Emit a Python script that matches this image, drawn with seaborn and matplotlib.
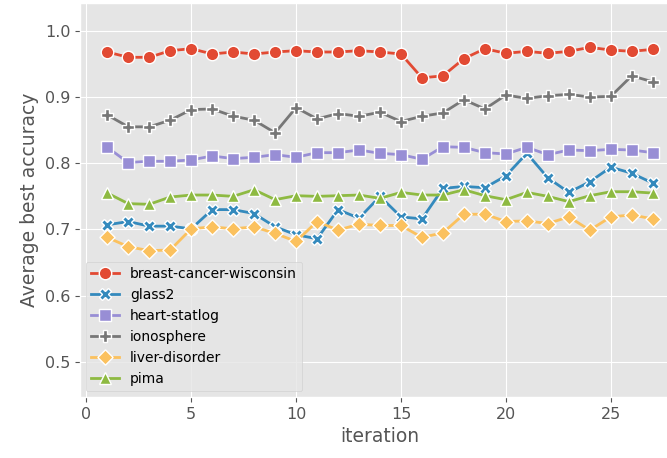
import matplotlib
matplotlib.use("Agg")
import matplotlib.pyplot as plt
import seaborn as sns
import pandas as pd

iterations = list(range(1, 28))

breast_cancer_wisconsin = [0.968, 0.960, 0.960, 0.970, 0.973, 0.965, 0.968, 0.965, 0.968, 0.970,
                           0.968, 0.968, 0.970, 0.968, 0.965, 0.929, 0.932, 0.958, 0.973, 0.966,
                           0.969, 0.966, 0.969, 0.975, 0.971, 0.969, 0.972]
glass2 = [0.707, 0.712, 0.705, 0.705, 0.701, 0.730, 0.730, 0.724, 0.704, 0.692,
          0.686, 0.730, 0.717, 0.750, 0.719, 0.716, 0.762, 0.765, 0.763, 0.781,
          0.815, 0.778, 0.756, 0.772, 0.794, 0.785, 0.770]
heart_statlog = [0.824, 0.801, 0.803, 0.803, 0.805, 0.811, 0.807, 0.809, 0.813, 0.809,
                 0.816, 0.816, 0.820, 0.815, 0.813, 0.806, 0.825, 0.824, 0.816, 0.814,
                 0.824, 0.813, 0.820, 0.819, 0.821, 0.820, 0.816]
ionosphere = [0.873, 0.855, 0.855, 0.865, 0.881, 0.882, 0.871, 0.865, 0.846, 0.884,
              0.867, 0.875, 0.871, 0.877, 0.863, 0.871, 0.876, 0.896, 0.882, 0.903,
              0.898, 0.902, 0.904, 0.900, 0.901, 0.932, 0.923]
liver_disorder = [0.688, 0.674, 0.668, 0.669, 0.701, 0.704, 0.701, 0.704, 0.694, 0.682,
                  0.712, 0.699, 0.708, 0.706, 0.706, 0.688, 0.695, 0.723, 0.723, 0.712,
                  0.713, 0.709, 0.719, 0.699, 0.719, 0.722, 0.716]
pima = [0.755, 0.739, 0.738, 0.749, 0.752, 0.752, 0.750, 0.760, 0.745, 0.751,
        0.750, 0.751, 0.752, 0.747, 0.756, 0.752, 0.752, 0.760, 0.751, 0.745,
        0.756, 0.750, 0.742, 0.751, 0.757, 0.757, 0.755]

names = ["breast-cancer-wisconsin", "glass2", "heart-statlog", "ionosphere",
         "liver-disorder", "pima"]
series = [breast_cancer_wisconsin, glass2, heart_statlog, ionosphere, liver_disorder, pima]

rows = []
for n, vals in zip(names, series):
    for it, v in zip(iterations, vals):
        rows.append({"iteration": it, "acc": v, "dataset": n})
df = pd.DataFrame(rows)

plt.style.use("ggplot")
palette = ["#E24A33", "#348ABD", "#988ED5", "#777777", "#FBC15E", "#8EBA42"]
markers = ["o", "X", (4, 0, 45), "P", (4, 0, 0), "^"]
msizes = [9, 9, 12, 9, 11, 9]

fig = plt.figure(figsize=(6.67, 4.58), dpi=100)
ax = fig.add_axes([80 / 667, 61 / 458, 600 / 667, 394 / 458])

sns.lineplot(data=df, x="iteration", y="acc", hue="dataset", style="dataset",
             palette=palette, markers=markers, dashes=False, ax=ax,
             linewidth=2, markersize=9, markeredgecolor="white", markeredgewidth=1)

ax.set_ylim(0.447, 1.042)
ax.set_xlim(-0.3, 28.3)
ax.set_yticks([0.5, 0.6, 0.7, 0.8, 0.9, 1.0])
ax.set_xticks([0, 5, 10, 15, 20, 25])
ax.tick_params(labelsize=11.5, colors="#555555")
ax.set_xlabel("iteration", fontsize=13.5, color="#555555")
ax.set_ylabel("Average best accuracy", fontsize=13.5, color="#555555")

leg = ax.legend(loc="lower left", fontsize=10, borderaxespad=0.4, title=None)

size_by_color = {matplotlib.colors.to_hex(c): s for c, s in zip(palette, msizes)}
for ln in list(ax.lines) + list(leg.get_lines()):
    key = matplotlib.colors.to_hex(ln.get_color())
    if key in size_by_color:
        ln.set_markersize(size_by_color[key])

fig.savefig("out.png", dpi=100)
